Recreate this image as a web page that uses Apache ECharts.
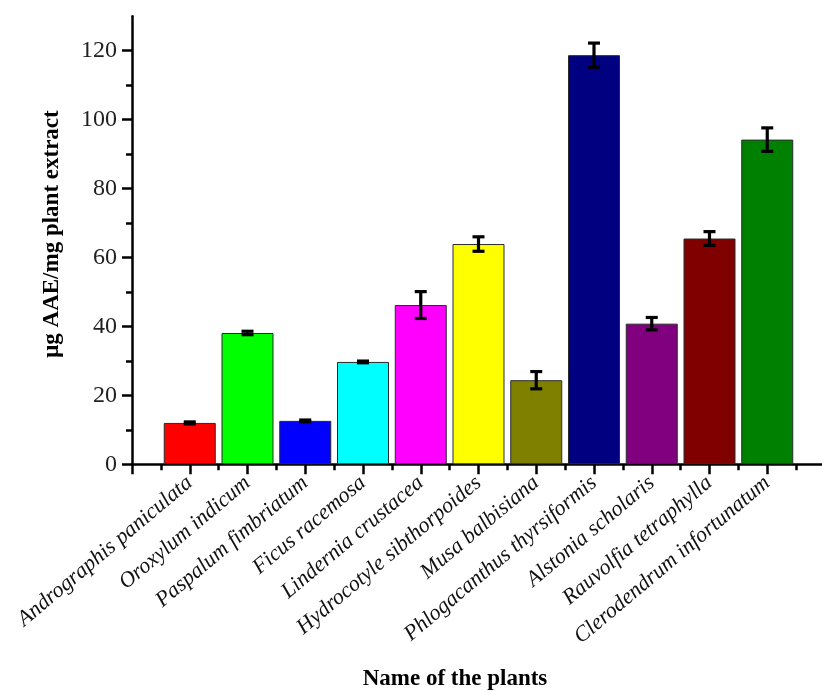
<!DOCTYPE html>
<html>
<head>
<meta charset="utf-8">
<script src="https://cdn.jsdelivr.net/npm/echarts@6/dist/echarts.min.js"></script>
<style>
  html, body { margin: 0; padding: 0; background: #fff; }
  #chart { width: 822px; height: 691px; }
</style>
</head>
<body>
<div id="chart"></div>
<script>
// Plant names, one per bar
const plants = [
  'Andrographis paniculata',
  'Oroxylum indicum',
  'Paspalum fimbriatum',
  'Ficus racemosa',
  'Lindernia crustacea',
  'Hydrocotyle sibthorpoides',
  'Musa balbisiana',
  'Phlogacanthus thyrsiformis',
  'Alstonia scholaris',
  'Rauvolfia tetraphylla',
  'Clerodendrum infortunatum'
];
// Mean content (µg AAE/mg plant extract)
const means = [12.0, 38.1, 12.6, 29.7, 46.2, 63.9, 24.4, 118.7, 40.8, 65.5, 94.2];
// Standard deviation for each mean
const errs = [0.3, 0.5, 0.25, 0.25, 3.9, 2.1, 2.5, 3.5, 1.8, 2.0, 3.4];
// Fill colour of each bar
const barColors = ['#ff0000', '#00ff00', '#0000ff', '#00ffff', '#ff00ff', '#ffff00',
                   '#808000', '#000080', '#800080', '#800000', '#008000'];
// Y-axis tick values
const yTicks = [0, 20, 40, 60, 80, 100, 120];

const FONT = '"Liberation Serif", "Times New Roman", serif';
const chart = echarts.init(document.getElementById('chart'), null, { renderer: 'canvas' });

const barData = means.map((v, i) => ({
  value: [i + 1, v],
  itemStyle: { color: barColors[i] }
}));
const errData = means.map((v, i) => [i + 1, v, errs[i]]);

// plot frame: x runs 0..12, slightly past the right edge of the canvas
const gridLeft = 132, gridWidth = 693, gridBottom = 226.7;

chart.setOption({
  animation: false,
  backgroundColor: '#ffffff',
  grid: [
    { left: gridLeft, width: gridWidth, top: 16.2, bottom: gridBottom,
      containLabel: false, outerBoundsMode: 'none' },
    // second grid carries the labelled ticks (0..120) at the same scale
    { left: gridLeft, width: gridWidth, top: 50.7, bottom: gridBottom,
      containLabel: false, outerBoundsMode: 'none' }
  ],
  xAxis: [
    {
      gridIndex: 0, type: 'value', min: 0, max: 12, interval: 1,
      axisLine: { show: true, lineStyle: { color: '#000', width: 2.5 } },
      axisTick: { show: true, length: 10, lineStyle: { color: '#000', width: 2.5 } },
      minorTick: { show: true, splitNumber: 2, length: 6, lineStyle: { color: '#000', width: 2.5 } },
      splitLine: { show: false },
      minorSplitLine: { show: false },
      axisLabel: {
        rotate: 40, margin: 16,
        fontFamily: FONT, fontStyle: 'italic', fontSize: 22, color: '#111',
        showMinLabel: true, showMaxLabel: true,
        formatter: v => (Number.isInteger(v) && v >= 1 && v <= plants.length) ? plants[v - 1] : ''
      }
    },
    { gridIndex: 1, type: 'value', min: 0, max: 12, show: false }
  ],
  yAxis: [
    {
      gridIndex: 0, type: 'value', min: 0, max: 130,
      axisLine: { show: true, lineStyle: { color: '#000', width: 2.5 } },
      axisTick: { show: false },
      axisLabel: { show: false },
      splitLine: { show: false }
    },
    {
      gridIndex: 1, type: 'value', min: yTicks[0], max: yTicks[yTicks.length - 1],
      interval: yTicks[1] - yTicks[0],
      axisLine: { show: false },
      axisTick: { show: true, length: 10, lineStyle: { color: '#000', width: 2.5 } },
      minorTick: { show: true, splitNumber: 2, length: 6, lineStyle: { color: '#000', width: 2.5 } },
      splitLine: { show: false },
      minorSplitLine: { show: false },
      axisLabel: { margin: 15, fontFamily: FONT, fontSize: 24, color: '#222' }
    }
  ],
  series: [
    {
      type: 'bar',
      xAxisIndex: 0, yAxisIndex: 0,
      barWidth: 52,
      data: barData,
      itemStyle: { borderColor: '#2a2a2a', borderWidth: 1 }
    },
    {
      type: 'custom',
      xAxisIndex: 0, yAxisIndex: 0,
      z: 5,
      data: errData,
      renderItem: function (params, api) {
        const x = api.value(0), m = api.value(1), e = api.value(2);
        const hi = api.coord([x, m + e]);
        const lo = api.coord([x, m - e]);
        const hw = 6;
        const style = { stroke: '#000', lineWidth: 3.2 };
        return {
          type: 'group',
          children: [
            { type: 'line', shape: { x1: hi[0], y1: hi[1], x2: lo[0], y2: lo[1] }, style },
            { type: 'line', shape: { x1: hi[0] - hw, y1: hi[1], x2: hi[0] + hw, y2: hi[1] }, style },
            { type: 'line', shape: { x1: lo[0] - hw, y1: lo[1], x2: lo[0] + hw, y2: lo[1] }, style }
          ]
        };
      }
    }
  ],
  graphic: [
    {
      type: 'text', x: 52, y: 234, rotation: Math.PI / 2,
      style: {
        text: 'μg AAE/mg plant extract',
        font: 'bold 23px ' + FONT, fill: '#000',
        textAlign: 'center', textVerticalAlign: 'middle'
      }
    },
    {
      type: 'text', x: 455, y: 679,
      style: {
        text: 'Name of the plants',
        font: 'bold 23px ' + FONT, fill: '#000',
        textAlign: 'center', textVerticalAlign: 'middle'
      }
    }
  ]
});
</script>
</body>
</html>
